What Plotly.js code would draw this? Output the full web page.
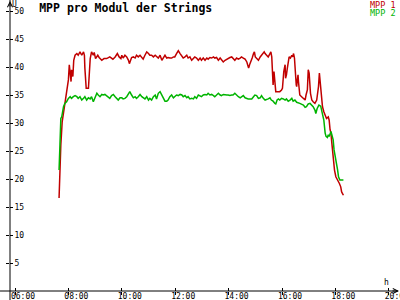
<!DOCTYPE html>
<html>
<head>
<meta charset="utf-8">
<script src="https://cdn.plot.ly/plotly-3.0.1.min.js"></script>
<style>html,body{margin:0;padding:0;background:#fff;}#chart{width:400px;height:300px;}</style>
</head>
<body>
<div id="chart"></div>
<script>
// ---- data ----
const titleText = "MPP pro Modul der Strings";
const seriesNames = ["MPP 1", "MPP 2"];
const tickHours = [6, 8, 10, 12, 14, 16, 18, 20];
const tickLabels = ["06:00", "08:00", "10:00", "12:00", "14:00", "16:00", "18:00", "20:00"];
const yTicks = [5, 10, 15, 20, 25, 30, 35, 40, 45, 50];

const times1 = [
 "07:39","07:40","07:43","07:46","07:51","07:54","07:58","08:00","08:02","08:04",
 "08:06","08:07","08:10","08:12","08:15","08:19","08:22","08:26","08:30","08:34",
 "08:36","08:37","08:40","08:45","08:47","08:49","08:52","08:56","08:58","09:01",
 "09:06","09:09","09:15","09:20","09:26","09:33","09:40","09:45","09:50","09:54",
 "09:58","10:00","10:03","10:07","10:11","10:15","10:17","10:20","10:22","10:26",
 "10:30","10:33","10:37","10:41","10:45","10:48","10:52","10:56","11:00","11:03",
 "11:07","11:11","11:15","11:18","11:22","11:26","11:30","11:33","11:37","11:41",
 "11:44","11:48","11:52","11:56","11:59","12:03","12:07","12:11","12:15","12:18",
 "12:22","12:26","12:29","12:33","12:37","12:41","12:44","12:48","12:52","12:56",
 "12:59","13:03","13:07","13:11","13:14","13:18","13:22","13:26","13:29","13:33",
 "13:37","13:41","13:44","13:48","13:52","13:56","13:59","14:03","14:07","14:10",
 "14:14","14:18","14:22","14:26","14:29","14:33","14:37","14:41","14:43","14:45",
 "14:48","14:50","14:53","14:56","14:58","15:00","15:03","15:07","15:11","15:14",
 "15:18","15:20","15:22","15:25","15:29","15:33","15:35","15:37","15:39","15:40",
 "15:42","15:43","15:45","15:46","15:52","15:55","15:59","16:01","16:04","16:07",
 "16:08","16:10","16:12","16:14","16:16","16:19","16:22","16:24","16:26","16:28",
 "16:29","16:31","16:32","16:33","16:34","16:36","16:37","16:39","16:40","16:44",
 "16:48","16:52","16:54","16:57","16:59","17:01","17:04","17:07","17:10","17:14",
 "17:18","17:20","17:22","17:24","17:27","17:29","17:31","17:34","17:37","17:40",
 "17:44","17:46","17:48","17:50","17:52","17:54","17:55","17:58","18:01","18:03",
 "18:06","18:09","18:12","18:14","18:18"
];
const mpp1 = [
 16.6,20.4,26.1,30.2,32.9,35.0,36.5,37.7,40.4,38.9,
 37.4,39.5,38.3,41.2,42.1,42.4,42.1,42.7,42.1,42.7,
 42.1,39.8,36.2,36.2,39.2,41.5,42.7,42.1,42.6,41.5,
 42.1,41.7,41.2,41.5,41.5,41.8,41.4,41.8,42.4,41.8,
 41.5,42.1,41.6,42.1,41.8,41.2,40.6,41.2,41.7,41.8,
 41.6,42.1,41.8,42.1,41.8,41.4,42.1,42.7,42.4,42.1,
 42.1,41.8,42.1,41.8,41.6,42.1,41.2,41.6,42.1,41.6,
 41.7,41.6,41.6,41.8,41.8,42.4,42.9,42.4,41.8,41.6,
 41.8,42.1,41.6,41.8,41.2,41.6,41.8,41.6,41.2,41.6,
 41.2,41.6,41.2,41.6,41.4,41.7,41.6,41.8,41.6,41.7,
 41.2,41.6,41.2,40.9,41.2,41.4,41.6,41.7,41.8,41.6,
 41.2,41.6,41.4,41.6,41.8,41.6,41.4,40.9,40.4,39.8,
 40.6,41.2,41.6,42.4,42.7,41.8,41.6,41.2,41.8,42.1,
 42.4,42.7,42.4,42.1,41.8,42.4,42.7,41.8,39.2,36.8,
 39.2,38.0,36.2,35.6,35.6,35.6,35.9,36.2,39.2,40.4,
 38.0,38.6,39.8,41.2,41.8,41.6,42.1,41.8,42.4,41.6,
 39.2,38.0,36.8,36.5,37.4,38.6,37.4,36.2,35.0,34.7,
 34.4,34.1,35.0,35.9,39.5,38.9,35.3,34.1,33.8,33.5,
 34.1,35.3,36.5,38.9,35.9,34.1,32.9,32.0,31.4,30.8,
 31.1,30.5,28.8,28.2,26.4,24.6,22.8,21.6,20.4,20.1,
 19.8,19.2,18.6,17.7,17.1
];

const times2 = [
 "07:39","07:40","07:41","07:43","07:45","07:49","07:52","07:56","08:00","08:04",
 "08:07","08:11","08:15","08:19","08:22","08:26","08:30","08:34","08:37","08:41",
 "08:45","08:49","08:52","08:56","09:00","09:04","09:07","09:11","09:15","09:18",
 "09:22","09:26","09:30","09:33","09:37","09:41","09:45","09:48","09:52","09:56",
 "10:00","10:03","10:07","10:11","10:15","10:18","10:22","10:26","10:30","10:33",
 "10:37","10:41","10:45","10:48","10:52","10:56","11:00","11:03","11:07","11:11",
 "11:15","11:18","11:22","11:26","11:30","11:33","11:37","11:41","11:44","11:48",
 "11:52","11:56","11:59","12:03","12:07","12:11","12:15","12:18","12:22","12:26",
 "12:29","12:33","12:37","12:41","12:44","12:48","12:52","12:56","12:59","13:03",
 "13:07","13:11","13:14","13:18","13:22","13:26","13:29","13:33","13:37","13:41",
 "13:44","13:48","13:52","13:56","13:59","14:03","14:07","14:10","14:14","14:18",
 "14:22","14:26","14:29","14:33","14:37","14:41","14:44","14:48","14:52","14:56",
 "14:59","15:03","15:07","15:11","15:14","15:18","15:22","15:29","15:33","15:36",
 "15:40","15:44","15:46","15:49","15:52","15:55","15:59","16:03","16:07","16:10",
 "16:14","16:18","16:22","16:25","16:29","16:33","16:37","16:40","16:48","16:52",
 "16:55","16:59","17:03","17:07","17:10","17:14","17:16","17:19","17:23","17:27",
 "17:29","17:31","17:34","17:37","17:39","17:42","17:44","17:46","17:48","17:50",
 "17:52","17:54","17:55","17:57","18:00","18:03","18:05","18:07","18:10","18:14",
 "18:18"
];
const mpp2 = [
 21.6,25.8,26.1,30.8,31.1,32.9,33.5,33.8,34.4,34.7,
 34.4,34.7,34.9,34.7,34.4,34.7,34.1,34.4,34.7,34.1,
 34.5,34.3,34.7,33.8,34.7,35.3,35.0,34.7,35.1,35.0,
 35.1,34.9,34.7,34.4,34.9,35.1,34.7,34.4,34.1,34.5,
 34.5,34.3,34.4,34.7,35.3,35.6,35.0,34.5,34.7,34.4,
 34.7,35.1,34.7,34.5,34.3,34.7,34.1,34.4,34.1,34.7,
 35.0,34.3,35.3,35.6,35.0,34.4,33.9,33.9,34.1,34.7,
 35.0,34.5,34.7,35.0,34.9,35.1,35.0,34.7,34.9,34.5,
 34.7,34.3,34.4,34.3,34.7,34.4,35.0,34.9,34.7,35.0,
 35.1,35.0,35.3,35.0,35.1,34.9,34.7,35.0,35.3,35.0,
 34.9,35.1,35.0,35.0,35.0,34.9,35.0,35.0,35.3,34.9,
 34.7,34.5,34.7,34.9,34.5,34.3,34.3,34.3,34.3,34.7,
 35.0,34.9,34.4,34.5,34.9,34.4,34.1,34.3,34.5,34.1,
 33.9,33.5,33.4,34.1,34.3,34.1,34.4,34.3,34.1,34.3,
 33.9,34.1,34.4,33.9,34.1,33.7,33.5,33.5,33.2,32.8,
 32.9,33.4,33.5,33.2,32.9,32.3,31.7,32.6,33.2,33.0,
 32.3,31.7,30.5,28.2,27.6,27.4,27.9,27.6,28.2,28.5,
 27.9,27.3,27.0,25.2,24.0,22.5,21.6,20.4,19.8,19.8,
 19.8
];

// ---- helpers ----
function toHours(s) { const p = s.split(":"); return +p[0] + (+p[1]) / 60; }

const FONT = "DejaVu Sans Mono";
const RED = "#c00000";
const GREEN = "#00b400";
const xRange = [5.8127, 20.4195];
const yRange = [0, 51.964];

const traces = [
  { x: times1.map(toHours), y: mpp1, name: seriesNames[0], type: "scatter", mode: "lines",
    line: { color: RED, width: 1.5 }, xaxis: "x", yaxis: "y", hoverinfo: "skip" },
  { x: times2.map(toHours), y: mpp2, name: seriesNames[1], type: "scatter", mode: "lines",
    line: { color: GREEN, width: 1.5 }, xaxis: "x2", yaxis: "y2", hoverinfo: "skip" }
];

const axBase = { showgrid: false, zeroline: false, showline: false, tickcolor: "#000", tickwidth: 1, ticklen: 3, fixedrange: true };

const layout = {
  width: 400, height: 300,
  margin: { l: 10, r: 0, t: 0, b: 9, pad: 0 },
  paper_bgcolor: "#fff", plot_bgcolor: "#fff",
  showlegend: false,
  title: { text: "<b>" + titleText + "</b>", x: 0.098, xanchor: "left", y: 0.975, yanchor: "middle",
           font: { family: FONT, size: 11.5, color: "#000" } },
  xaxis: Object.assign({}, axBase, { range: xRange, tickmode: "array", tickvals: tickHours, ticktext: tickLabels,
           ticks: "inside", ticklabelshift: 8, ticklabelstandoff: -1, ticklabeloverflow: "allow",
           tickfont: { family: FONT, size: 8, color: "#000" } }),
  xaxis2: Object.assign({}, axBase, { range: xRange, overlaying: "x", side: "bottom", anchor: "y2", tickmode: "array",
           tickvals: tickHours, ticks: "outside", showticklabels: false }),
  yaxis: Object.assign({}, axBase, { range: yRange, tickmode: "array", tickvals: yTicks, ticks: "inside",
           ticklabelposition: "inside", ticklabeloverflow: "allow", tickfont: { family: FONT, size: 8, color: "#000" } }),
  yaxis2: Object.assign({}, axBase, { range: yRange, overlaying: "y", side: "left", anchor: "x2", tickmode: "array",
           tickvals: yTicks, ticks: "outside", showticklabels: false }),
  shapes: [
    { type: "line", xref: "paper", yref: "paper", x0: 0, x1: 0, y0: -0.031, y1: 1, line: { color: "#000", width: 1 } },
    { type: "line", xref: "paper", yref: "paper", x0: -0.0256, x1: 0.9949, y0: 0, y1: 0, line: { color: "#000", width: 1 } }
  ],
  annotations: [
    { xref: "paper", yref: "paper", x: 0, y: 1, ax: 0, ay: 8, text: "", showarrow: true, arrowhead: 5, arrowsize: 1, arrowwidth: 1, arrowcolor: "#000" },
    { xref: "paper", yref: "paper", x: 0.9974, y: 0, ax: -8, ay: 0, text: "", showarrow: true, arrowhead: 5, arrowsize: 1, arrowwidth: 1, arrowcolor: "#000" },
    { xref: "paper", yref: "paper", x: 0.0128, y: 0.9845, xanchor: "center", yanchor: "middle", text: "U", showarrow: false,
      borderpad: 0, font: { family: FONT, size: 8, color: "#000" } },
    { xref: "paper", yref: "paper", x: 0.9654, y: 0.0309, xanchor: "center", yanchor: "middle", text: "h", showarrow: false,
      font: { family: FONT, size: 8, color: "#000" } },
    { xref: "paper", yref: "paper", x: 0.9923, y: 0.983, xanchor: "right", yanchor: "middle", text: seriesNames[0], showarrow: false,
      borderpad: 0, font: { family: FONT, size: 8.5, color: RED } },
    { xref: "paper", yref: "paper", x: 0.9923, y: 0.956, xanchor: "right", yanchor: "middle", text: seriesNames[1], showarrow: false,
      borderpad: 0, font: { family: FONT, size: 8.5, color: GREEN } }
  ]
};

Plotly.newPlot("chart", traces, layout, { staticPlot: true, displayModeBar: false });
</script>
</body>
</html>
